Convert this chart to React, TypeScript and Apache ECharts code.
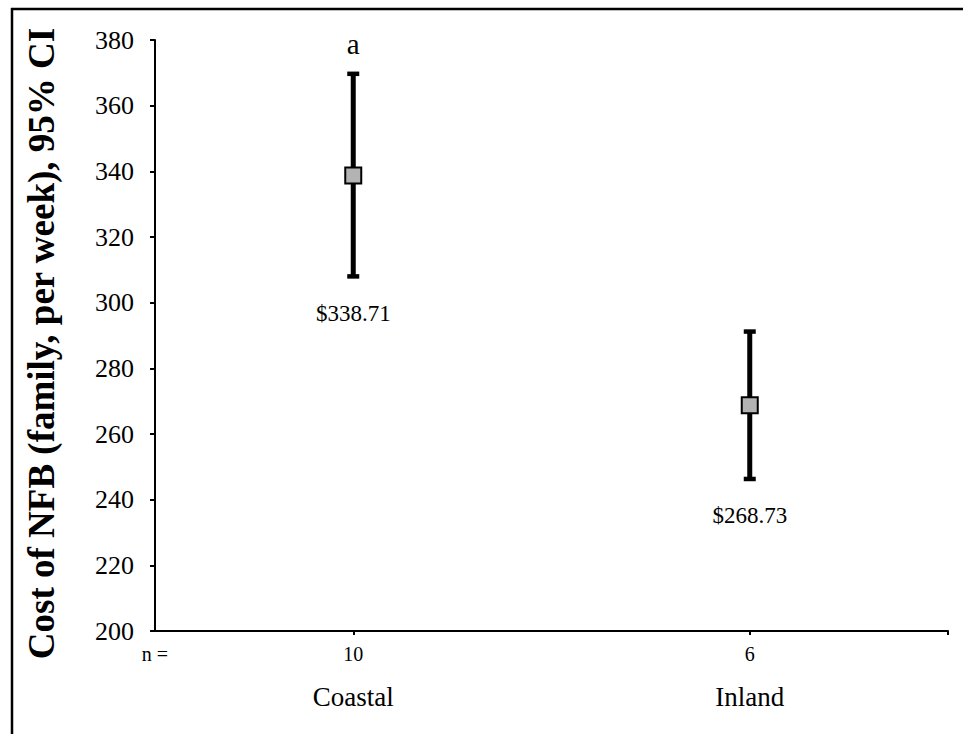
import React, { useEffect, useRef } from "react";
import * as echarts from "echarts";

const categories = ["Coastal", "Inland"];
const sampleSizes = [10, 6];
const xPositions = [1, 3];
const means = [338.71, 268.73];
const ciLower = [308.0, 246.3];
const ciUpper = [369.7, 291.2];
const meanLabels = ["$338.71", "$268.73"];
const sigLetters = ["a", ""];
const yMin = 200;
const yMax = 380;
const yStep = 20;
const xMin = 0;
const xMax = 4;

const SERIF = "Liberation Serif, Times New Roman, serif";

export default function App() {
  const ref = useRef<HTMLDivElement>(null);

  useEffect(() => {
    if (!ref.current) return;
    const chart = echarts.init(ref.current, undefined, { renderer: "svg" });

    const errData = categories.map((c, i) => [xPositions[i], ciLower[i], ciUpper[i], means[i], i]);
    const meanData = categories.map((c, i) => [xPositions[i], means[i]]);

    const option: any = {
      animation: false,
      backgroundColor: "#ffffff",
      grid: { left: 155, right: 15, top: 40, bottom: 103, containLabel: false },
      xAxis: {
        type: "value",
        min: xMin,
        max: xMax,
        splitLine: { show: false },
        axisLine: { show: true, onZero: false, lineStyle: { color: "#000", width: 2 } },
        axisTick: {
          show: true,
          length: 4,
          customValues: [...xPositions, xMax],
          lineStyle: { color: "#000", width: 2 },
        },
        axisLabel: {
          show: true,
          margin: 8,
          customValues: [xMin, ...xPositions],
          color: "#000",
          fontFamily: SERIF,
          formatter: (v: number) => {
            if (v === xMin) return "{n|n =}";
            const idx = xPositions.indexOf(v);
            if (idx < 0) return "";
            return `{n|${sampleSizes[idx]}}\n{c|${categories[idx]}}`;
          },
          rich: {
            n: { fontSize: 20, lineHeight: 30, fontFamily: SERIF, color: "#000" },
            c: { fontSize: 27, lineHeight: 56, fontFamily: SERIF, color: "#000" },
          },
        },
      },
      yAxis: {
        type: "value",
        min: yMin,
        max: yMax,
        interval: yStep,
        name: "Cost of NFB (family, per week), 95% CI",
        nameLocation: "middle",
        nameRotate: 90,
        nameGap: 114,
        nameMoveOverlap: false,
        nameTextStyle: {
          fontFamily: SERIF,
          fontWeight: "bold",
          fontSize: 37,
          color: "#000",
          verticalAlign: "middle",
          padding: [0, 16, 0, 0],
        },
        splitLine: { show: false },
        axisLine: { show: true, lineStyle: { color: "#000", width: 2 } },
        axisTick: { show: true, length: 5, lineStyle: { color: "#000", width: 2 } },
        axisLabel: {
          margin: 21,
          color: "#000",
          fontFamily: SERIF,
          fontSize: 26,
        },
      },
      series: [
        {
          type: "custom",
          data: errData,
          z: 2,
          renderItem: (params: any, api: any) => {
            const x = api.value(0);
            const lo = api.value(1);
            const hi = api.value(2);
            const i = api.value(4);
            const pLo = api.coord([x, lo]);
            const pHi = api.coord([x, hi]);
            const capW = 12;
            const capH = 4.5;
            const children: any[] = [
              {
                type: "line",
                shape: { x1: pLo[0], y1: pLo[1], x2: pHi[0], y2: pHi[1] },
                style: { stroke: "#000", lineWidth: 5 },
              },
              {
                type: "rect",
                shape: { x: pHi[0] - capW / 2, y: pHi[1] - capH / 2, width: capW, height: capH },
                style: { fill: "#000" },
              },
              {
                type: "rect",
                shape: { x: pLo[0] - capW / 2, y: pLo[1] - capH / 2, width: capW, height: capH },
                style: { fill: "#000" },
              },
              {
                type: "text",
                style: {
                  text: meanLabels[i],
                  x: pLo[0],
                  y: pLo[1] + 37,
                  align: "center",
                  verticalAlign: "middle",
                  fontSize: 23,
                  fontFamily: SERIF,
                  fill: "#000",
                },
              },
            ];
            if (sigLetters[i]) {
              children.push({
                type: "text",
                style: {
                  text: sigLetters[i],
                  x: pHi[0],
                  y: pHi[1] - 30,
                  align: "center",
                  verticalAlign: "middle",
                  fontSize: 29,
                  fontFamily: SERIF,
                  fill: "#000",
                },
              });
            }
            return { type: "group", children };
          },
        },
        {
          type: "scatter",
          data: meanData,
          z: 3,
          symbol: "rect",
          symbolSize: 16,
          itemStyle: { color: "#b3b3b3", borderColor: "#000", borderWidth: 2, opacity: 1 },
        },
      ],
      graphic: [
        {
          type: "line",
          shape: { x1: 11, y1: 9, x2: 963, y2: 9 },
          style: { stroke: "#000", lineWidth: 2.5 },
        },
        {
          type: "line",
          shape: { x1: 12, y1: 8, x2: 12, y2: 734 },
          style: { stroke: "#000", lineWidth: 2.5 },
        },
      ],
    };

    chart.setOption(option);
    return () => chart.dispose();
  }, []);

  return (
    <div
      ref={ref}
      style={{ position: "absolute", left: 0, top: 0, width: 963, height: 734 }}
    />
  );
}
